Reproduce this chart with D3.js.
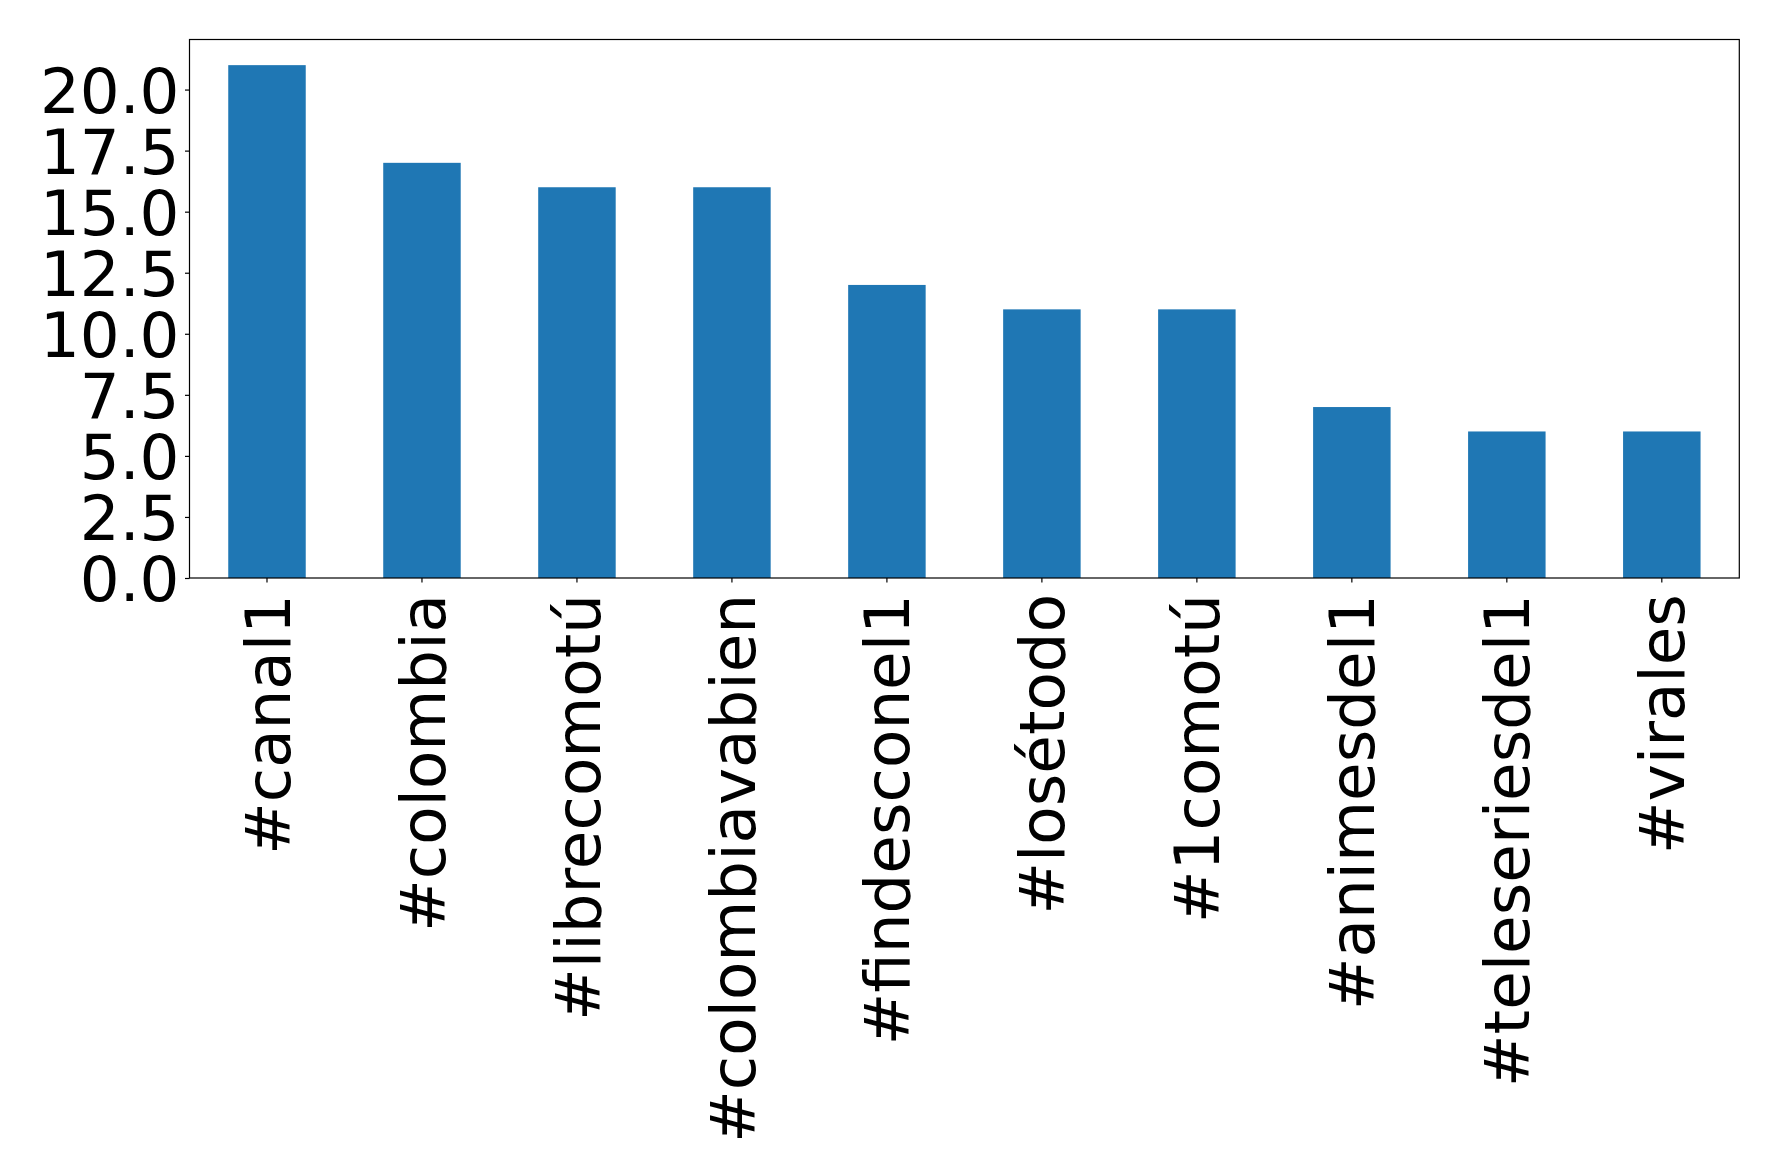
<!DOCTYPE html>
<html>
<head>
<meta charset="utf-8">
<script src="https://cdn.jsdelivr.net/npm/d3@7"></script>
<style>
  html, body { margin: 0; padding: 0; background: #fff; }
  svg { display: block; }
  text { font-family: "DejaVu Sans", sans-serif; fill: #000; }
</style>
</head>
<body>
<script>
const categories = ["#canal1", "#colombia", "#librecomotú", "#colombiavabien", "#findesconel1", "#losétodo", "#1comotú", "#animesdel1", "#teleseriesdel1", "#virales"];
const values = [21, 17, 16, 16, 12, 11, 11, 7, 6, 6];
const yTicks = [0, 2.5, 5, 7.5, 10, 12.5, 15, 17.5, 20];

const W = 1778, H = 1175;
const m = { left: 189.5, top: 39.5, right: 1739.3, bottom: 578 };
const fs = 62.7;

const svg = d3.select("body").append("svg").attr("width", W).attr("height", H);

const x = d3.scaleBand().domain(categories).range([m.left, m.right]).paddingInner(0.5).paddingOuter(0.25);
const yMax = d3.max(values) * 1.05;
const y = d3.scaleLinear().domain([0, yMax]).range([m.bottom, m.top]);

svg.append("g").selectAll("rect").data(values).join("rect")
  .attr("x", (d, i) => x(categories[i]))
  .attr("width", x.bandwidth())
  .attr("y", d => y(d))
  .attr("height", d => y(0) - y(d))
  .attr("fill", "#1f77b4");

// frame
svg.append("rect")
  .attr("x", m.left).attr("y", m.top)
  .attr("width", m.right - m.left).attr("height", m.bottom - m.top)
  .attr("fill", "none").attr("stroke", "#000").attr("stroke-width", 1.2);

// y axis
const yAxis = d3.axisLeft(y).tickValues(yTicks).tickFormat(d3.format(".1f")).tickSize(4.5).tickPadding(5.5);
const gy = svg.append("g").attr("transform", `translate(${m.left},0)`).call(yAxis);
gy.select(".domain").remove();
gy.selectAll(".tick line").attr("stroke", "#000").attr("stroke-width", 1.2);
gy.selectAll(".tick text").attr("font-size", fs).attr("font-family", "DejaVu Sans").attr("fill", "#000").attr("dy", "0.36em");

// x axis
const xAxis = d3.axisBottom(x).tickSize(4.5).tickPadding(4.5);
const gx = svg.append("g").attr("transform", `translate(0,${m.bottom})`).call(xAxis);
gx.select(".domain").remove();
gx.selectAll(".tick line").attr("stroke", "#000").attr("stroke-width", 1.2);
gx.selectAll(".tick text")
  .attr("font-size", fs).attr("font-family", "DejaVu Sans").attr("fill", "#000")
  .attr("text-anchor", "end")
  .attr("transform", "rotate(-90)")
  .attr("x", -16).attr("y", 0).attr("dy", "0.36em");
</script>
</body>
</html>
